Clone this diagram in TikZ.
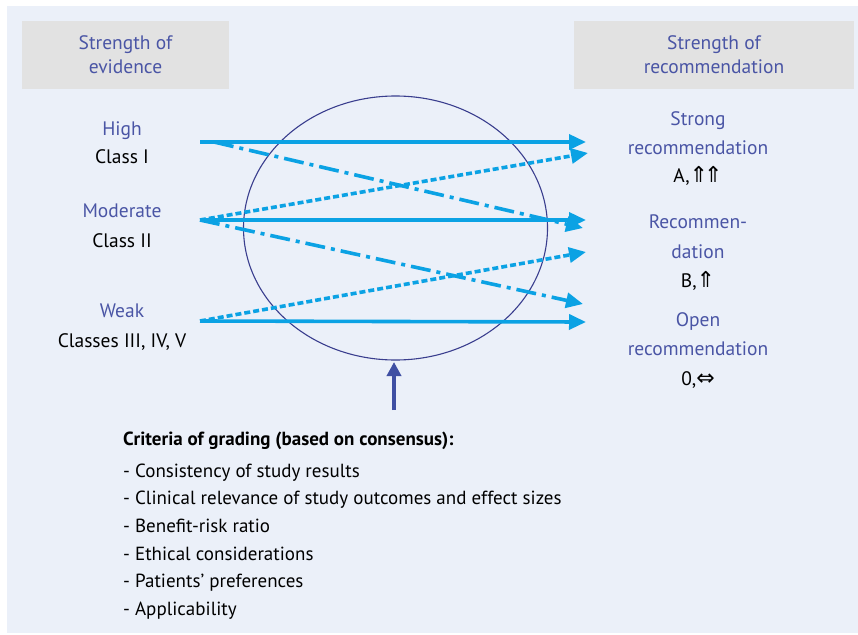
\documentclass[tikz,border=0pt]{standalone}
\usepackage{fontspec}
\setmainfont{PT Sans}
\newfontfamily\symfont{DejaVu Sans}
\usetikzlibrary{arrows.meta,shapes.geometric}
\definecolor{bgpanel}{HTML}{EBF0F9}
\definecolor{greybox}{HTML}{E2E2E2}
\definecolor{headblue}{HTML}{4A55A5}
\definecolor{arrowcyan}{HTML}{0BA2E4}
\definecolor{ringblue}{HTML}{3A3E8E}
\definecolor{uparrow}{HTML}{3F4FA3}
\newcommand{\bigsym}[1]{{\symfont\fontsize{22}{22}\selectfont #1}}
\tikzset{
  hdr/.style={fill=greybox, minimum height=68pt, inner sep=0pt, align=center, text=headblue, font=\fontsize{19.5}{24}\selectfont},
  bluetxt/.style={text=headblue, anchor=base, inner sep=0pt, font=\fontsize{19.5}{22}\selectfont},
  blacktxt/.style={text=black, anchor=base, inner sep=0pt, font=\fontsize{19.5}{22}\selectfont},
  itemtxt/.style={text=black, anchor=base west, inner sep=0pt, font=\fontsize{19}{22}\selectfont},
  conn/.style={draw=arrowcyan, line width=3.6pt, -{Triangle[length=17pt,width=15pt]}},
  solidconn/.style={conn},
  dotconn/.style={conn, dash pattern=on 6pt off 3pt},
  dashdotconn/.style={conn, dash pattern=on 20pt off 6pt on 4pt off 6pt},
}
\begin{document}
\begin{tikzpicture}[x=1pt,y=-1pt]
\useasboundingbox (0,0) rectangle (858,634);
\fill[bgpanel] (7,6) rectangle (858,633);
% headers
\node[hdr, minimum width=207pt] (hl) at (125.5,55) {Strength of\\evidence};
\node[hdr, minimum width=280pt] (hr) at (714,55) {Strength of\\recommendation};
% left labels
\node[bluetxt] (high) at (122,135) {High};
\node[blacktxt] (c1) at (122,163) {Class I};
\node[bluetxt] (mod) at (122,217) {Moderate};
\node[blacktxt] (c2) at (122,247) {Class II};
\node[bluetxt] (weak) at (122,317) {Weak};
\node[blacktxt] (c3) at (122,347) {Classes III, IV, V};
% right labels
\node[bluetxt] (strong) at (698,125) {Strong};
\node[bluetxt] (strongb) at (698,154) {recommendation};
\node[blacktxt] (ga) at (698,182) {A,\bigsym{⇑\kern-4pt⇑}};
\node[bluetxt] (rec) at (698,228) {Recommen-};
\node[bluetxt] (recb) at (698,258) {dation};
\node[blacktxt] (gb) at (698,287) {B,\bigsym{⇑}};
\node[bluetxt] (open) at (698,326) {Open};
\node[bluetxt] (openb) at (698,355) {recommendation};
\node[blacktxt] (g0) at (698,385) {0,\bigsym{⇔}};
% ellipse
\node[draw=ringblue, line width=1.1pt, ellipse, minimum width=304pt, minimum height=264pt, inner sep=0pt] (ring) at (395.5,228) {};
% start and end points
\coordinate (sH) at (200,142);
\coordinate (sH2) at (214,142);
\coordinate (sM) at (200,220);
\coordinate (sW) at (200,321);
\coordinate (eA) at (586,142);
\coordinate (eA2) at (588,153);
\coordinate (eB) at (586,220);
\coordinate (eB2) at (583,228);
\coordinate (eB3) at (586,252);
\coordinate (eC) at (583,304);
\coordinate (eC2) at (586,322);
% connectors
\draw[solidconn] (sH) -- (eA);
\draw[solidconn] (sM) -- (eB);
\draw[solidconn] (sW) -- (eC2);
\draw[dotconn] (sM) -- (eA2);
\draw[dotconn] (sW) -- (eB3);
\draw[dashdotconn] (sH2) -- (eB2);
\draw[dashdotconn] (sM) -- (eC);
% criteria arrow
\coordinate (up) at (394,410);
\draw[draw=uparrow, line width=3.5pt, -{Triangle[length=14pt,width=14pt]}] (up) -- (394,362);
% criteria
\node[itemtxt, font=\fontsize{19}{22}\selectfont\bfseries] (crit) at (123,445) {Criteria of grading (based on consensus):};
\node[itemtxt] (i1) at (123,477) {- Consistency of study results};
\node[itemtxt] (i2) at (123,504) {- Clinical relevance of study outcomes and effect sizes};
\node[itemtxt] (i3) at (123,532) {- Benefit-risk ratio};
\node[itemtxt] (i4) at (123,560) {- Ethical considerations};
\node[itemtxt] (i5) at (123,587) {- Patients’ preferences};
\node[itemtxt] (i6) at (123,615) {- Applicability};
\end{tikzpicture}
\end{document}
